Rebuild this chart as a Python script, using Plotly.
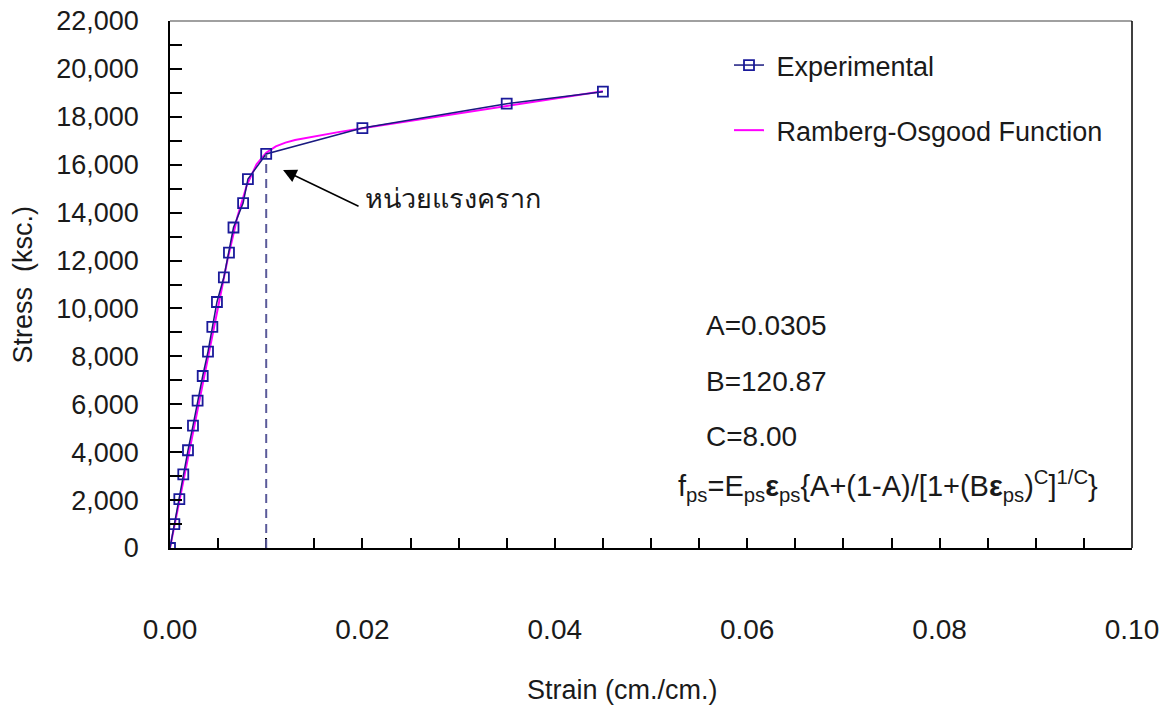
import plotly.graph_objects as go

# Experimental data (strain in cm/cm, stress in ksc)
exp_strain = [0.0, 0.00045, 0.00097, 0.00138, 0.00187, 0.00239, 0.00287, 0.0034, 0.00395,
              0.0044, 0.00488, 0.0056, 0.00613, 0.0066, 0.0076, 0.0081, 0.0100,
              0.0200, 0.0350, 0.0450]
exp_stress = [0, 1000, 2040, 3070, 4080, 5110, 6150, 7180, 8200,
              9230, 10270, 11300, 12330, 13380, 14400, 15400, 16450,
              17530, 18550, 19050]

# Ramberg-Osgood curve
ro_strain = [0.0, 0.002, 0.004, 0.006, 0.007, 0.008, 0.009, 0.010, 0.011, 0.012, 0.013,
             0.015, 0.0175, 0.020, 0.025, 0.030, 0.035, 0.040, 0.045]
ro_stress = [0, 4060, 8117, 12072, 13814, 15161, 16022, 16503, 16766, 16924, 17034,
             17192, 17361, 17521, 17831, 18140, 18450, 18759, 19069]

yield_strain = 0.010
yield_stress = 16450

x_tickvals = [0.0, 0.02, 0.04, 0.06, 0.08, 0.10]
x_ticktext = ["0.00", "0.02", "0.04", "0.06", "0.08", "0.10"]

params_text = ["A=0.0305", "B=120.87", "C=8.00"]
formula = ("f<sub>ps</sub>=E<sub>ps</sub><b>ε</b><sub>ps</sub>{A+(1-A)/[1+(B<b>ε</b>"
           "<sub>ps</sub>)<sup>C</sup>]<sup>1/C</sup>}")

FONT = "Liberation Sans, Arial, sans-serif"
FS = 27
TXT = "#1a1a1a"

L, R, T, B = 170, 41, 21, 161
PW = 1173 - L - R
PH = 709 - T - B


def px(xp):
    return (xp - L) / PW


def py(yp):
    return (709 - B - yp) / PH


fig = go.Figure()

fig.add_trace(go.Scatter(
    x=ro_strain, y=ro_stress, mode="lines", name="\u00a0Ramberg-Osgood Function",
    line=dict(color="#ff00ff", width=2), legendgroup="b", legendrank=2,
))
fig.add_trace(go.Scatter(
    x=exp_strain, y=exp_stress, mode="lines+markers", name="\u00a0Experimental",
    line=dict(color="#1a1a80", width=1.5),
    marker=dict(symbol="square-open", size=10, color="#1a1a9a", line=dict(width=1.8, color="#1a1a9a")),
    legendgroup="a", legendrank=1,
))

# dashed yield line
fig.add_shape(type="line", x0=yield_strain, x1=yield_strain, y0=0, y1=yield_stress,
              xref="x", yref="y", line=dict(color="#5a5a9a", width=2, dash="9px,6px"))

# top (gray) and right (black) borders
fig.add_shape(type="line", x0=0, x1=1, y0=1, y1=1, xref="paper", yref="paper",
              line=dict(color="#808080", width=1.5))
fig.add_shape(type="line", x0=1, x1=1, y0=0, y1=1, xref="paper", yref="paper",
              line=dict(color="#000000", width=1.5))

# arrow to yield point
fig.add_annotation(x=0.01175, y=15780, xref="x", yref="y", ax=77, ay=37,
                   text="", showarrow=True, arrowhead=2, arrowsize=1.8, arrowwidth=1.5,
                   arrowcolor="black")
fig.add_annotation(x=px(363), y=py(199), xref="paper", yref="paper", text="หน่วยแรงคราก",
                   showarrow=False, xanchor="left", yanchor="middle",
                   font=dict(family=FONT, size=27, color=TXT))

# parameter text
for t, ypx in zip(params_text, [325, 381, 437]):
    fig.add_annotation(x=px(704), y=py(ypx), xref="paper", yref="paper",
                       text=t, showarrow=False, xanchor="left", yanchor="middle",
                       font=dict(family=FONT, size=28, color=TXT))
fig.add_annotation(x=px(676), y=py(486), xref="paper", yref="paper",
                   text=formula, showarrow=False, xanchor="left", yanchor="middle",
                   font=dict(family=FONT, size=29, color=TXT))

# axis titles
fig.add_annotation(x=px(22), y=0.5, xref="paper", yref="paper",
                   text="Stress \u00a0(ksc.)", textangle=-90, showarrow=False,
                   xanchor="center", yanchor="middle",
                   font=dict(family=FONT, size=FS, color=TXT))
fig.add_annotation(x=px(622), y=py(690), xref="paper", yref="paper",
                   text="Strain (cm./cm.)", showarrow=False,
                   xanchor="center", yanchor="middle",
                   font=dict(family=FONT, size=FS, color=TXT))

fig.update_layout(
    width=1173, height=709,
    margin=dict(l=L, r=R, t=T, b=B),
    paper_bgcolor="white", plot_bgcolor="white",
    font=dict(family=FONT, size=FS, color=TXT),
    showlegend=True,
    legend=dict(x=px(729), y=py(41), xanchor="left", yanchor="top",
                bgcolor="rgba(0,0,0,0)", font=dict(family=FONT, size=FS, color=TXT),
                traceorder="grouped", tracegroupgap=27, itemwidth=30),
    xaxis=dict(range=[0, 0.1], tickvals=x_tickvals, ticktext=x_ticktext, automargin=False,
               showgrid=False, zeroline=False, showline=True, linecolor="black", linewidth=1.5,
               ticks="inside", ticklen=10, tickwidth=1.5, tickcolor="black",
               ticklabelstandoff=56, tickfont=dict(size=28),
               minor=dict(dtick=0.005, ticks="inside", ticklen=10, tickwidth=1.5, tickcolor="black")),
    yaxis=dict(range=[0, 22000], dtick=2000, tickformat=",d", automargin=False,
               showgrid=False, zeroline=False, showline=True, linecolor="black", linewidth=1.5,
               ticks="inside", ticklen=12, tickwidth=1.5, tickcolor="black",
               ticklabelstandoff=24, tickfont=dict(size=27),
               minor=dict(dtick=1000, ticks="inside", ticklen=12, tickwidth=1.5, tickcolor="black")),
)

fig.write_html("out.html")
